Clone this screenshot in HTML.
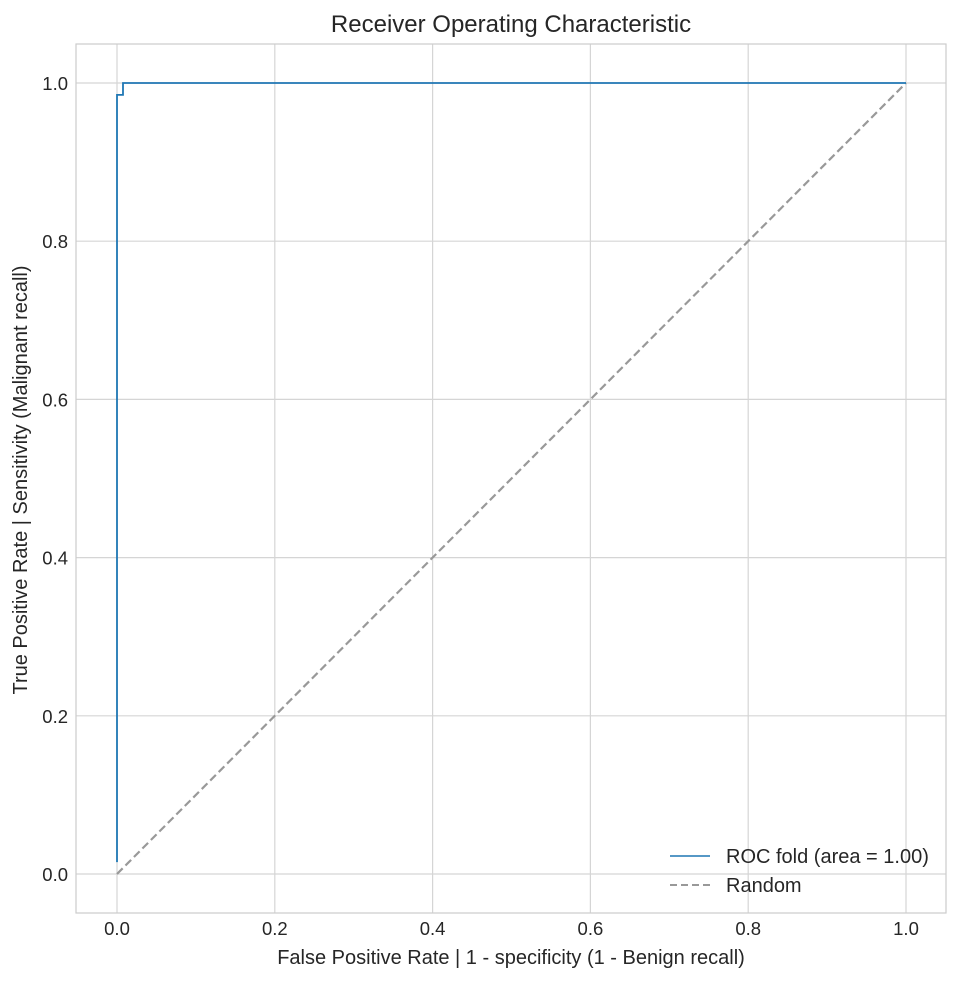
<!DOCTYPE html>
<html><head><meta charset="utf-8"><style>
body{margin:0;background:#fff;font-family:"Liberation Sans",sans-serif;}
svg text{font-family:"Liberation Sans",sans-serif;fill:#262626;}
</style></head><body>
<svg id="chart" width="960" height="981" xmlns="http://www.w3.org/2000/svg">
<rect width="960" height="981" fill="#fff"/>
<g id="grid"></g>
<rect x="76" y="44" width="870" height="869" fill="none" stroke="#cccccc" stroke-width="1.2"/>
<g id="ticks"></g>
<g id="series"></g>
<text x="511" y="32" text-anchor="middle" font-size="24">Receiver Operating Characteristic</text>
<text x="511" y="964" text-anchor="middle" font-size="20">False Positive Rate | 1 - specificity (1 - Benign recall)</text>
<text transform="translate(27,480) rotate(-90)" text-anchor="middle" font-size="20">True Positive Rate | Sensitivity (Malignant recall)</text>
<g>
<line x1="670" y1="856" x2="710" y2="856" stroke="#1f77b4" stroke-width="1.5"/>
<text x="726" y="863" font-size="20">ROC fold (area = 1.00)</text>
<line x1="670" y1="885" x2="710" y2="885" stroke="#999" stroke-width="2" stroke-dasharray="7,4"/>
<text x="726" y="892" font-size="20">Random</text>
</g>
</svg>
<script>
const ticks=[0,0.2,0.4,0.6,0.8,1.0];
const tickLabels=["0.0","0.2","0.4","0.6","0.8","1.0"];
const fpr=[0,0,0.0076,0.0076,1];
const tpr=[0.015,0.985,0.985,1,1];
const randX=[0,1];
const randY=[0,1];
const X=v=>117+v*789, Y=v=>874-v*791;
const NS="http://www.w3.org/2000/svg";
const grid=document.getElementById('grid'),tk=document.getElementById('ticks'),se=document.getElementById('series');
function mk(t,a,p){const e=document.createElementNS(NS,t);for(const k in a)e.setAttribute(k,a[k]);p.appendChild(e);return e;}
ticks.forEach((t,i)=>{
 let l=mk('line',{x1:X(t),x2:X(t),y1:44,y2:913,stroke:'#d5d5d5','stroke-width':1.2},grid);
 
 
 l=mk('line',{x1:76,x2:946,y1:Y(t),y2:Y(t),stroke:'#d5d5d5','stroke-width':1.2},grid);
 
 
 let tx=mk('text',{x:X(t),y:935,'text-anchor':'middle','font-size':18.5},tk);tx.textContent=tickLabels[i];
 
 
 tx=mk('text',{x:68,y:Y(t)+7,'text-anchor':'end','font-size':18.5},tk);tx.textContent=tickLabels[i];
 
 
});
let r=mk('polyline',{points:randX.map((v,i)=>X(v)+','+Y(randY[i])).join(' '),fill:'none',stroke:'#999','stroke-width':2.2,'stroke-dasharray':'8,4'},se);


let p=mk('polyline',{points:fpr.map((v,i)=>X(v)+','+Y(tpr[i])).join(' '),fill:'none',stroke:'#1f77b4','stroke-width':1.8},se);


</script>
</body></html>
